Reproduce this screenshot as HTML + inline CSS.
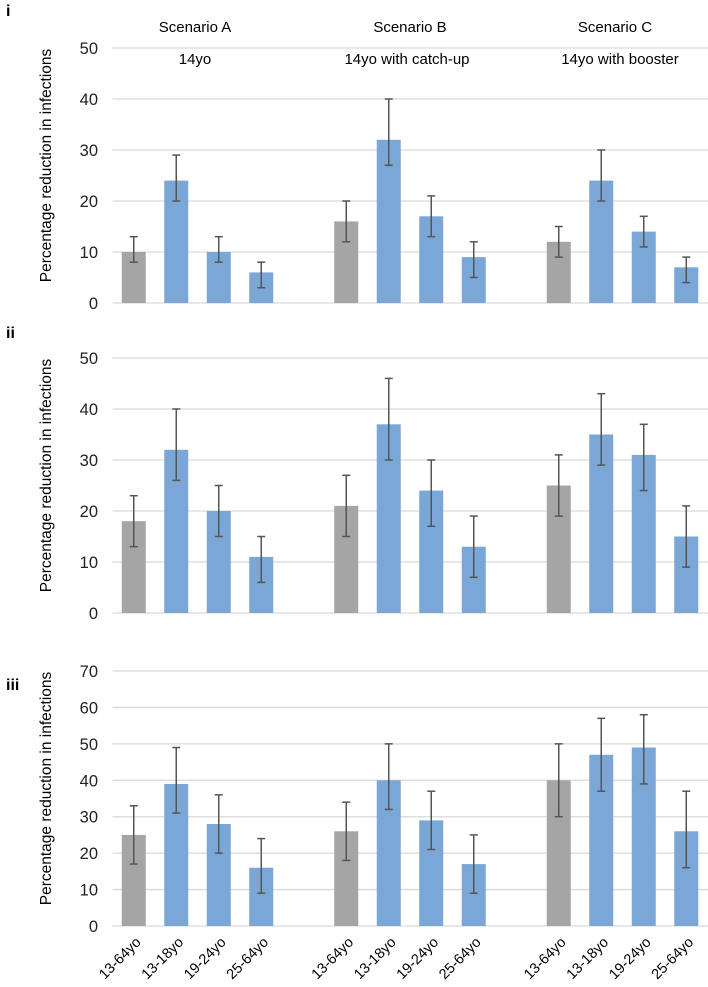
<!DOCTYPE html>
<html><head><meta charset="utf-8"><style>
body{margin:0;background:#fff;}
svg{display:block;font-family:"Liberation Sans",sans-serif;}
</style></head><body>
<svg id="c" width="708" height="987"></svg>
<script>
const categories=["13-64yo","13-18yo","19-24yo","25-64yo"];
const scenarios=["Scenario A","Scenario B","Scenario C"];
const subtitles=["14yo","14yo with catch-up","14yo with booster"];
const panelLabels=["i","ii","iii"];
const panelMax=[50,50,70];
const valsI=[10,24,10,6, 16,32,17,9, 12,24,14,7];
const lowI=[8,20,8,3, 12,27,13,5, 9,20,11,4];
const highI=[13,29,13,8, 20,40,21,12, 15,30,17,9];
const valsII=[18,32,20,11, 21,37,24,13, 25,35,31,15];
const lowII=[13,26,15,6, 15,30,17,7, 19,29,24,9];
const highII=[23,40,25,15, 27,46,30,19, 31,43,37,21];
const valsIII=[25,39,28,16, 26,40,29,17, 40,47,49,26];
const lowIII=[17,31,20,9, 18,32,21,9, 30,37,39,16];
const highIII=[33,49,36,24, 34,50,37,25, 50,57,58,37];
const panels=[[valsI,lowI,highI],[valsII,lowII,highII],[valsIII,lowIII,highIII]];
const NS="http://www.w3.org/2000/svg";
const svg=document.getElementById('c');
function mk(t,a,p){const e=document.createElementNS(NS,t);for(const k in a)e.setAttribute(k,a[k]);(p||svg).appendChild(e);return e;}
const geo=[{y0:303,top:48},{y0:613,top:358},{y0:926,top:671}];
const left=112.5, slot=42.5, bw=24;
function xC(i){const g=Math.floor(i/4),k=i%4;return left+(g*5+k)*slot+slot/2;}
panels.forEach((p,pi)=>{
  const G=geo[pi],max=panelMax[pi];
  const y=v=>G.y0-(G.y0-G.top)*v/max;
  const grp=mk('g',{});
  
  
  const pl=mk('text',{x:6,y:pi==0?16:(pi==1?338:690),'font-size':16,'font-weight':'bold'},grp);
  pl.textContent=panelLabels[pi];
  
  
  for(let v=0;v<=max;v+=10){
    const gl=mk('line',{x1:left,x2:708,y1:y(v),y2:y(v),stroke:'#d9d9d9','stroke-width':1.3},grp);
    
    
    const t=mk('text',{x:98,y:y(v)+6,'font-size':16.5,'text-anchor':'end',fill:'#222'},grp);
    t.textContent=v;
    
    
  }
  const cy=(G.y0+G.top)/2-10;
  const yt=mk('text',{x:0,y:0,'font-size':15.5,'text-anchor':'middle',transform:`translate(51,${cy}) rotate(-90)`},grp);
  yt.textContent='Percentage reduction in infections';
  
  
  const [vals,lo,hi]=p;
  vals.forEach((v,i)=>{
    const cx=xC(i);
    const b=mk('rect',{x:cx-bw/2,y:y(v),width:bw,height:G.y0-y(v),fill:i%4==0?'#a5a5a5':'#7ba7d7'},grp);
    
    
    const e=mk('g',{stroke:'#555','stroke-width':1.5},grp);
    
    
    mk('line',{x1:cx,x2:cx,y1:y(lo[i]),y2:y(hi[i])},e);
    mk('line',{x1:cx-4,x2:cx+4,y1:y(lo[i]),y2:y(lo[i])},e);
    mk('line',{x1:cx-4,x2:cx+4,y1:y(hi[i]),y2:y(hi[i])},e);
    if(pi==2){
      const t=mk('text',{x:0,y:0,'font-size':14.5,'text-anchor':'end',transform:`translate(${cx+8},${G.y0+17}) rotate(-45)`});
      t.textContent=categories[i%4];
      
      
    }
  });
});
const sx=[195,410,615],subx=[195,407,620];
scenarios.forEach((s,i)=>{
  const t=mk('text',{x:sx[i],y:32,'font-size':15,'text-anchor':'middle'});
  t.textContent=s;
  
  
  const u=mk('text',{x:subx[i],y:64,'font-size':15,'text-anchor':'middle'});
  u.textContent=subtitles[i];
  
  
});
</script>
</body></html>
